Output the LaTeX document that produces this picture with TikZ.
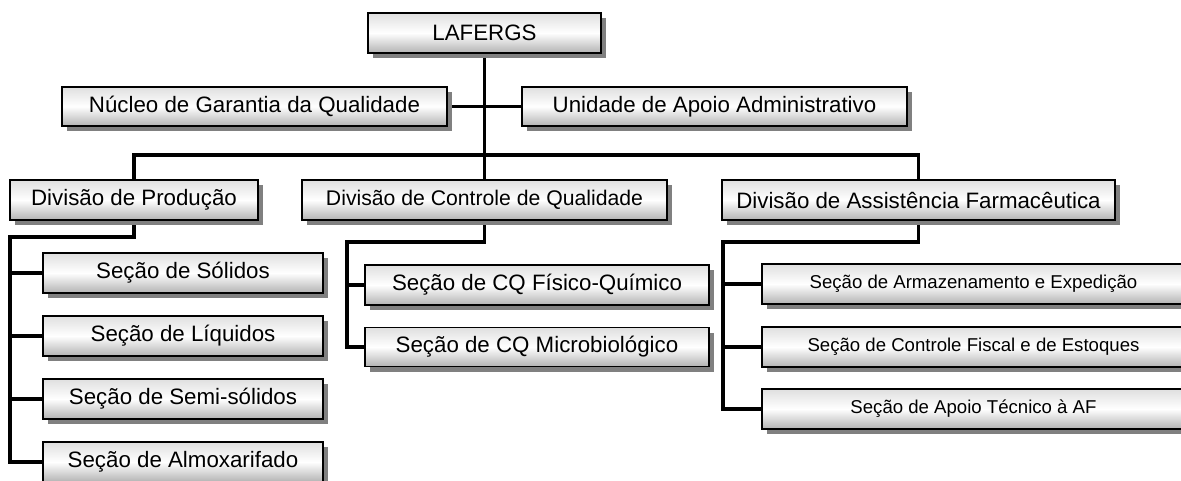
\documentclass[tikz,border=0pt]{standalone}
\usepackage{fontspec}
\setmainfont{Liberation Sans}
\usetikzlibrary{shadows,backgrounds}
\begin{document}
\begin{tikzpicture}[x=1pt,y=-1pt,
  box/.style={draw=black, line width=1.8pt, inner sep=0pt, minimum height=40pt,
    top color=gray!25, bottom color=gray!60, middle color=white,
    font=\fontsize{22.3}{26}\selectfont,
    drop shadow={shadow xshift=5pt, shadow yshift=-5pt, fill=black!50, opacity=1}},
  smallbox/.style={box, font=\fontsize{18.6}{22}\selectfont},
  conn/.style={line width=3.2pt, draw=black, line cap=rect}]
\useasboundingbox (0,0) rectangle (1181,481);
\clip (0,0) rectangle (1181,481);
% top
\node[box, minimum width=233] (laf) at (484.5,33) {LAFERGS};
\node[box, minimum width=385, minimum height=39] (nuc) at (254.5,106.5) {Núcleo de Garantia da Qualidade};
\node[box, minimum width=385, minimum height=39] (uni) at (714.5,106.5) {Unidade de Apoio Administrativo};
% divisions
\node[box, minimum width=248] (dp) at (134,200) {Divisão de Produção};
\node[box, minimum width=365, font=\fontsize{21.2}{25}\selectfont] (dcq) at (484.5,200) {Divisão de Controle de Qualidade};
\node[box, minimum width=393] (daf) at (918.5,200) {Divisão de Assistência Farmacêutica};
% production sections
\node[box, minimum width=280] (sol) at (183,273) {Seção de Sólidos};
\node[box, minimum width=280] (liq) at (183,336) {Seção de Líquidos};
\node[box, minimum width=280] (semi) at (183,399) {Seção de Semi-sólidos};
\node[box, minimum width=280] (alm) at (183,462) {Seção de Almoxarifado};
% QC sections
\node[box, minimum width=344] (fq) at (537,285) {Seção de CQ Físico-Químico};
\node[box, minimum width=344, minimum height=39] (mic) at (537,347) {Seção de CQ Microbiológico};
% AF sections
\node[smallbox, minimum width=423] (arm) at (973.5,284) {Seção de Armazenamento e Expedição};
\node[smallbox, minimum width=423] (cfe) at (973.5,347) {Seção de Controle Fiscal e de Estoques};
\node[smallbox, minimum width=423] (apo) at (973.5,409) {Seção de Apoio Técnico à AF};
% connectors
\coordinate (bus) at (485,155);
\coordinate (pl) at (10,237);
\coordinate (ql) at (347,242);
\coordinate (al) at (723,242);
\begin{scope}[on background layer]
  \draw[conn] (laf.south) -- (dcq.north);
  \draw[conn] (nuc.east) -- (uni.west);
  \draw[conn] (dp.north) |- (bus) -| (daf.north);
  \draw[conn] (dp.south) |- (pl) |- (alm.west);
  \draw[conn] (pl |- sol.west) -- (sol.west);
  \draw[conn] (pl |- liq.west) -- (liq.west);
  \draw[conn] (pl |- semi.west) -- (semi.west);
  \draw[conn] (dcq.south) |- (ql) |- (mic.west);
  \draw[conn] (ql |- fq.west) -- (fq.west);
  \draw[conn] (daf.south) |- (al) |- (apo.west);
  \draw[conn] (al |- arm.west) -- (arm.west);
  \draw[conn] (al |- cfe.west) -- (cfe.west);
\end{scope}
\end{tikzpicture}
\end{document}
